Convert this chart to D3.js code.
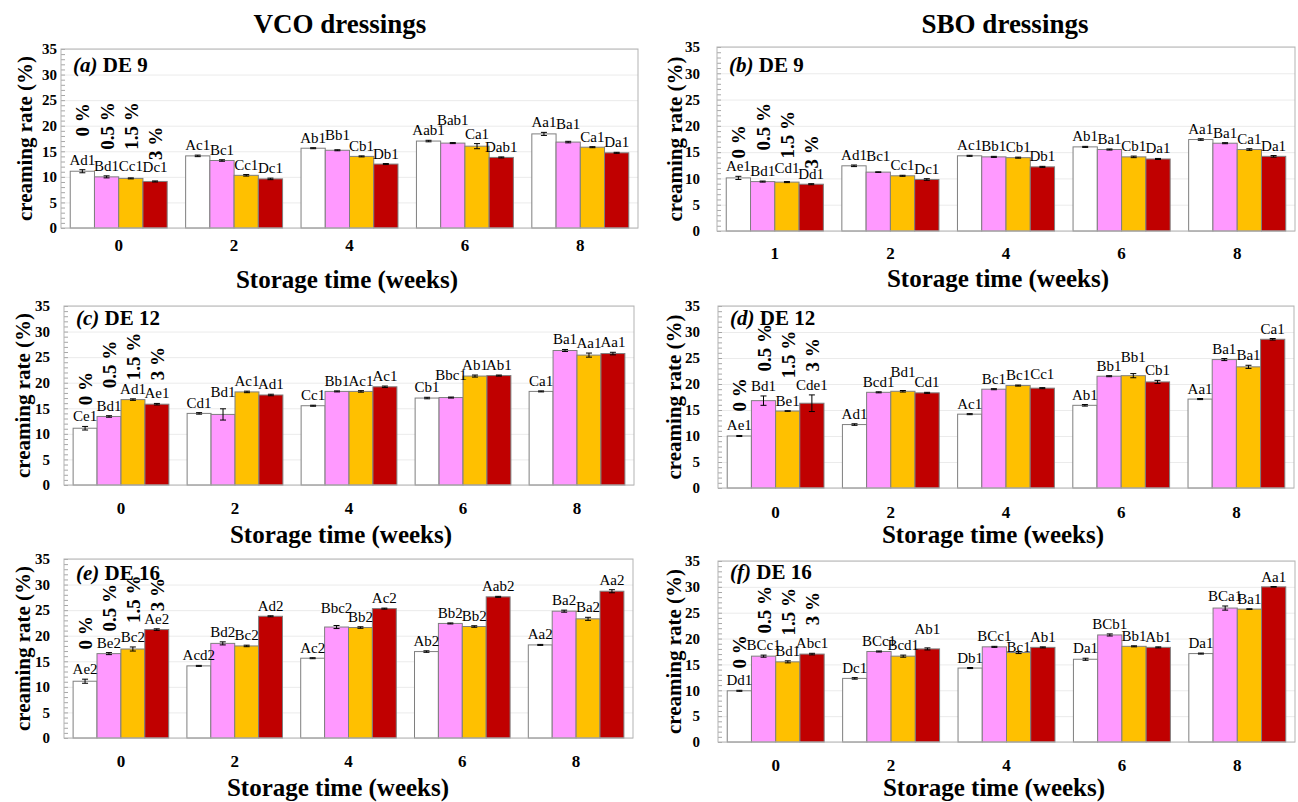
<!DOCTYPE html>
<html>
<head>
<meta charset="utf-8">
<script src="https://cdn.jsdelivr.net/npm/d3@7"></script>
<style>
body { margin: 0; background: #fff; }
</style>
</head>
<body>
<div id="chart"></div>
<script>
var concentrations = ["0 %", "0.5 %", "1.5 %", "3 %"];
var weeksVCO = ["0", "2", "4", "6", "8"];
var weeksSBO9 = ["1", "2", "4", "6", "8"];
var yTicks = [0, 5, 10, 15, 20, 25, 30, 35];
var seriesColors = ["#ffffff", "#ff99ff", "#ffc000", "#c00000"];

// creaming rate (%) per storage week: [0 %, 0.5 %, 1.5 %, 3 %]
var vcoDE9 = [[11.1, 10.0, 9.7, 9.1], [14.1, 13.2, 10.3, 9.6], [15.6, 15.2, 14.0, 12.5], [17.0, 16.6, 16.0, 13.8], [18.4, 16.8, 15.8, 14.7]];
var vcoDE9Err = [[0.3, 0.2, 0.1, 0.1], [0.15, 0.15, 0.15, 0.15], [0.1, 0.1, 0.1, 0.1], [0.15, 0.1, 0.5, 0.1], [0.3, 0.15, 0.1, 0.1]];
var vcoDE9Letters = [["Ad1", "Bd1", "Cc1", "Dc1"], ["Ac1", "Bc1", "Cc1", "Dc1"], ["Ab1", "Bb1", "Cb1", "Db1"], ["Aab1", "Bab1", "Ca1", "Dab1"], ["Aa1", "Ba1", "Ca1", "Da1"]];

var sboDE9 = [[10.1, 9.4, 9.3, 8.9], [12.4, 11.2, 10.5, 9.8], [14.3, 14.1, 13.95, 12.2], [16.0, 15.5, 14.1, 13.7], [17.4, 16.7, 15.5, 14.2]];
var sboDE9Err = [[0.3, 0.1, 0.1, 0.1], [0.15, 0.05, 0.1, 0.15], [0.1, 0.1, 0.1, 0.1], [0.1, 0.1, 0.15, 0.1], [0.15, 0.1, 0.15, 0.15]];
var sboDE9Letters = [["Ae1", "Bd1", "Cd1", "Dd1"], ["Ad1", "Bc1", "Cc1", "Dc1"], ["Ac1", "Bb1", "Cb1", "Db1"], ["Ab1", "Ba1", "Cb1", "Da1"], ["Aa1", "Ba1", "Ca1", "Da1"]];

var vcoDE12 = [[11.1, 13.4, 16.7, 15.8], [14.0, 13.8, 18.2, 17.6], [15.5, 18.3, 18.3, 19.2], [17.0, 17.1, 21.3, 21.4], [18.3, 26.3, 25.4, 25.7]];
var vcoDE12Err = [[0.35, 0.15, 0.15, 0.15], [0.15, 1.1, 0.15, 0.15], [0.1, 0.1, 0.15, 0.15], [0.15, 0.1, 0.2, 0.1], [0.1, 0.2, 0.4, 0.25]];
var vcoDE12Letters = [["Ce1", "Bd1", "Ad1", "Ae1"], ["Cd1", "Bd1", "Ac1", "Ad1"], ["Cc1", "Bb1", "Ac1", "Ac1"], ["Cb1", "Bbc1", "Ab1", "Ab1"], ["Ca1", "Ba1", "Aa1", "Aa1"]];

var sboDE12 = [[10.0, 16.8, 14.8, 16.3], [12.2, 18.4, 18.6, 18.3], [14.2, 19.0, 19.7, 19.2], [15.9, 21.5, 21.6, 20.4], [17.1, 24.7, 23.3, 28.6]];
var sboDE12Err = [[0.1, 0.9, 0.05, 1.6], [0.15, 0.1, 0.15, 0.1], [0.1, 0.1, 0.1, 0.1], [0.15, 0.1, 0.4, 0.3], [0.1, 0.2, 0.3, 0.15]];
var sboDE12Letters = [["Ae1", "Bd1", "Be1", "Cde1"], ["Ad1", "Bcd1", "Bd1", "Cd1"], ["Ac1", "Bc1", "Bc1", "Cc1"], ["Ab1", "Bb1", "Bb1", "Cb1"], ["Aa1", "Ba1", "Ba1", "Ca1"]];

var vcoDE16 = [[11.1, 16.5, 17.4, 21.2], [14.1, 18.5, 18.0, 23.8], [15.6, 21.7, 21.6, 25.3], [16.9, 22.4, 21.8, 27.6], [18.2, 24.8, 23.3, 28.7]];
var vcoDE16Err = [[0.4, 0.2, 0.4, 0.15], [0.1, 0.3, 0.15, 0.1], [0.1, 0.3, 0.15, 0.1], [0.15, 0.1, 0.15, 0.1], [0.1, 0.2, 0.3, 0.3]];
var vcoDE16Letters = [["Ae2", "Be2", "Bc2", "Ae2"], ["Acd2", "Bd2", "Bc2", "Ad2"], ["Ac2", "Bbc2", "Bb2", "Ac2"], ["Ab2", "Bb2", "Bb2", "Aab2"], ["Aa2", "Ba2", "Ba2", "Aa2"]];

var sboDE16 = [[9.9, 16.6, 15.5, 17.0], [12.3, 17.5, 16.6, 18.0], [14.3, 18.4, 17.3, 18.3], [16.0, 20.7, 18.5, 18.3], [17.1, 25.9, 25.7, 30.0]];
var sboDE16Err = [[0.1, 0.2, 0.2, 0.15], [0.15, 0.1, 0.2, 0.2], [0.1, 0.1, 0.2, 0.1], [0.2, 0.2, 0.1, 0.1], [0.1, 0.4, 0.05, 0.05]];
var sboDE16Letters = [["Dd1", "BCc1", "Bd1", "Abc1"], ["Dc1", "BCc1", "Bcd1", "Ab1"], ["Db1", "BCc1", "Bc1", "Ab1"], ["Da1", "BCb1", "Bb1", "Ab1"], ["Da1", "BCa1", "Ba1", "Aa1"]];

var panels = [
  {tag: "(a)", de: "DE 9", weeks: weeksVCO, values: vcoDE9, err: vcoDE9Err, letters: vcoDE9Letters,
   x: 61, y: 49, w: 577, h: 179, yGap: 4, yTitleX: 25, xTickDy: 23, xTitleX: 347, xTitleY: 288, titleDy: 23,
   legendBottom: [17.9, 15.3, 15.3, 13.3], lifts: [[0, 2, 2], [0, 3, 4], [2, 1, 5], [3, 1, 13], [4, 1, 7]]},
  {tag: "(b)", de: "DE 9", weeks: weeksSBO9, values: sboDE9, err: sboDE9Err, letters: sboDE9Letters,
   x: 717, y: 47, w: 578, h: 184, yGap: 17, yTitleX: 675, xTickDy: 28, xTitleX: 998, xTitleY: 287, titleDy: 25,
   legendBottom: [13.8, 15.3, 13.8, 11.9], lifts: [[0, 2, 4], [1, 1, 6]]},
  {tag: "(c)", de: "DE 12", weeks: weeksVCO, values: vcoDE12, err: vcoDE12Err, letters: vcoDE12Letters,
   x: 64, y: 306, w: 570, h: 179, yGap: 14, yTitleX: 23, xTickDy: 29, xTitleX: 341, xTitleY: 543, titleDy: 19,
   legendBottom: [15.6, 18.9, 20.5, 20.5], lifts: [[1, 1, 7], [3, 1, 12]]},
  {tag: "(d)", de: "DE 12", weeks: weeksVCO, values: sboDE12, err: sboDE12Err, letters: sboDE12Letters,
   x: 718, y: 306, w: 576, h: 182, yGap: 18, yTitleX: 674, xTickDy: 30, xTitleX: 993, xTitleY: 543, titleDy: 19,
   legendBottom: [14.7, 22.4, 21.1, 22.4], lifts: [[1, 2, 9], [2, 3, 4], [3, 2, 7]]},
  {tag: "(e)", de: "DE 16", weeks: weeksVCO, values: vcoDE16, err: vcoDE16Err, letters: vcoDE16Letters,
   x: 64, y: 559, w: 569, h: 179, yGap: 14, yTitleX: 23, xTickDy: 29, xTitleX: 338, xTitleY: 796, titleDy: 21,
   legendBottom: [17.3, 20.8, 22.5, 24.8], lifts: [[2, 1, 7]]},
  {tag: "(f)", de: "DE 16", weeks: weeksVCO, values: sboDE16, err: sboDE16Err, letters: sboDE16Letters,
   x: 718, y: 561, w: 577, h: 181, yGap: 18, yTitleX: 674, xTickDy: 29, xTitleX: 994, xTitleY: 796, titleDy: 18,
   legendBottom: [14.2, 21.0, 20.6, 22.6], lifts: [[1, 3, 9], [2, 2, -5]]}
];

var FONT = "Liberation Serif";
var width = 1298, height = 802;

var svg = d3.select("#chart").append("svg")
    .attr("width", width)
    .attr("height", height)
    .attr("font-family", FONT);

svg.append("text")
    .attr("x", 340).attr("y", 33)
    .attr("text-anchor", "middle")
    .attr("font-family", FONT)
    .attr("font-size", 27).attr("font-weight", "bold")
    .text("VCO dressings");

svg.append("text")
    .attr("x", 1005).attr("y", 33)
    .attr("text-anchor", "middle")
    .attr("font-family", FONT)
    .attr("font-size", 27).attr("font-weight", "bold")
    .text("SBO dressings");

function drawPanel(cfg) {
  var g = svg.append("g")
      .attr("transform", `translate(${cfg.x}, ${cfg.y})`);

  var yScale = d3.scaleLinear().domain([0, 35]).range([cfg.h, 0]);

  var xScale = d3.scaleBand()
      .domain(cfg.weeks)
      .range([0, cfg.w])
      .paddingInner(0.16)
      .paddingOuter(0.08);

  var sScale = d3.scaleBand()
      .domain(concentrations)
      .range([0, xScale.bandwidth()]);

  // grid lines
  g.append("g")
      .attr("class", "grid")
      .call(d3.axisLeft(yScale).tickValues(yTicks).tickSize(-cfg.w).tickFormat(""))
      .call(s => s.select(".domain").remove())
      .selectAll("line").attr("stroke", "#ebebeb");

  // minor ticks on the inside of the left axis
  g.append("g")
      .call(d3.axisRight(yScale).tickValues(d3.range(0, 36, 1)).tickSize(4).tickFormat(""))
      .call(s => s.select(".domain").remove())
      .selectAll("line").attr("stroke", "#a6a6a6");

  // y labels
  var yAx = g.append("g")
      .call(d3.axisLeft(yScale).tickValues(yTicks).tickSize(0).tickPadding(cfg.yGap));
  yAx.attr("font-family", FONT).attr("font-size", 15).attr("font-weight", "bold");
  yAx.select(".domain").remove();

  // x labels
  var xAx = g.append("g")
      .attr("transform", `translate(0, ${cfg.h})`)
      .call(d3.axisBottom(xScale).tickSize(0));
  xAx.attr("font-family", FONT).attr("font-size", 17).attr("font-weight", "bold");
  xAx.select(".domain").remove();
  xAx.selectAll("text")
      .attr("y", cfg.xTickDy).attr("dy", null);

  var rows = [];
  cfg.values.forEach(function(vals, i) {
    vals.forEach(function(v, j) {
      rows.push({week: cfg.weeks[i], gi: i, si: j, conc: concentrations[j], value: v,
                 err: cfg.err[i][j], letter: cfg.letters[i][j]});
    });
  });

  g.selectAll(".bar")
      .data(rows)
      .enter()
      .append("rect")
      .attr("class", "bar")
      .attr("x", d => xScale(d.week) + sScale(d.conc))
      .attr("y", d => yScale(d.value))
      .attr("width", sScale.bandwidth())
      .attr("height", d => cfg.h - yScale(d.value))
      .attr("fill", d => seriesColors[d.si])
      .attr("stroke", "#7f7f7f")
      .attr("stroke-width", 1);

  // error bars
  var eb = g.selectAll(".err")
      .data(rows)
      .enter()
      .append("g")
      .attr("class", "err")
      .attr("stroke", "#000")
      .attr("stroke-width", 1);
  var cx = d => xScale(d.week) + sScale(d.conc) + sScale.bandwidth() / 2;
  eb.append("line")
      .attr("x1", cx).attr("x2", cx)
      .attr("y1", d => yScale(d.value - d.err))
      .attr("y2", d => yScale(d.value + d.err));
  eb.append("line")
      .attr("x1", d => cx(d) - 3).attr("x2", d => cx(d) + 3)
      .attr("y1", d => yScale(d.value + d.err))
      .attr("y2", d => yScale(d.value + d.err));
  eb.append("line")
      .attr("x1", d => cx(d) - 3).attr("x2", d => cx(d) + 3)
      .attr("y1", d => yScale(d.value - d.err))
      .attr("y2", d => yScale(d.value - d.err));

  // significance letters
  var lift = function(d) {
    var l = cfg.lifts.find(a => a[0] === d.gi && a[1] === d.si);
    return l ? l[2] : 0;
  };
  g.selectAll(".letter")
      .data(rows)
      .enter()
      .append("text")
      .attr("class", "letter")
      .attr("x", cx)
      .attr("y", d => yScale(d.value + d.err) - 5 - lift(d))
      .attr("text-anchor", "middle")
      .attr("font-family", FONT)
      .attr("font-size", 15)
      .text(d => d.letter);

  // rotated series labels above the first group
  g.selectAll(".conc")
      .data(concentrations)
      .enter()
      .append("text")
      .attr("class", "conc")
      .attr("transform", (d, j) => `translate(${xScale(cfg.weeks[0]) + sScale(d) + sScale.bandwidth() / 2 + 7}, ${yScale(cfg.legendBottom[j])}) rotate(-90)`)
      .attr("font-family", FONT)
      .attr("font-size", 19).attr("font-weight", "bold")
      .text(d => d);

  // frame
  g.append("rect")
      .attr("width", cfg.w).attr("height", cfg.h)
      .attr("fill", "none")
      .attr("stroke", "#b3b3b3");

  // panel title
  var t = g.append("text")
      .attr("x", 12).attr("y", cfg.titleDy)
      .attr("font-family", FONT)
      .attr("font-size", 21).attr("font-weight", "bold");
  t.append("tspan").attr("font-style", "italic").text(cfg.tag + " ");
  t.append("tspan").text(cfg.de);

  // axis titles
  svg.append("text")
      .attr("transform", `translate(${cfg.yTitleX}, ${cfg.y + cfg.h / 2}) rotate(-90)`)
      .attr("text-anchor", "middle")
      .attr("dy", "0.35em")
      .attr("font-family", FONT)
      .attr("font-size", 21).attr("font-weight", "bold")
      .text("creaming rate (%)");

  svg.append("text")
      .attr("x", cfg.xTitleX).attr("y", cfg.xTitleY)
      .attr("text-anchor", "middle")
      .attr("font-family", FONT)
      .attr("font-size", 25).attr("font-weight", "bold")
      .text("Storage time (weeks)");
}

panels.forEach(drawPanel);
</script>
</body>
</html>
